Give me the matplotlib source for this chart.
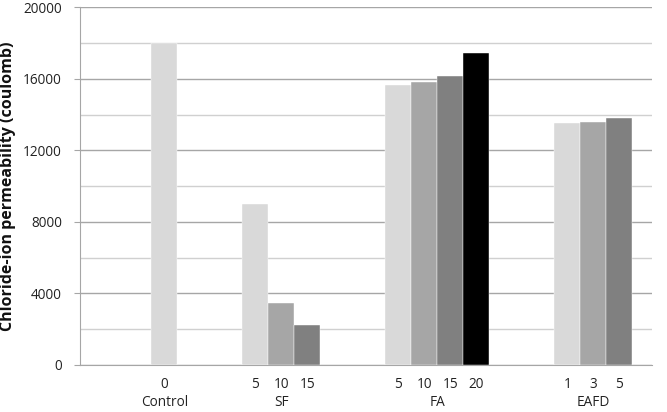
import numpy as np
import matplotlib.pyplot as plt
from matplotlib.transforms import blended_transform_factory

plt.rcParams['font.family'] = ['Open Sans', 'DejaVu Sans']

# groups and their bars (Excel style clustered columns, 4 slots per group)
groups    = ['Control', 'SF', 'FA', 'EAFD']
sublabels = [['0'], ['5', '10', '15'], ['5', '10', '15', '20'], ['1', '3', '5']]
slots     = [[2], [0, 1, 2], [0, 1, 2, 3], [1, 2, 3]]
values    = [[18000],
             [9000, 3450, 2220],
             [15640, 15850, 16160, 17430],
             [13530, 13600, 13800]]
shades    = ['#d9d9d9', '#a6a6a6', '#808080', '#000000']

cat_w = 5.5     # width of one category in bar widths
gap   = 0.75    # half of gap between clusters

fig = plt.figure(figsize=(6.67, 4.12), dpi=100)
ax = fig.add_axes([0.1199, 0.1148, 0.8576, 0.8670])

tick_pos, tick_lab, grp_ctr = [], [], []
for k in range(len(groups)):
    xs = [cat_w*k + gap + s + 0.5 for s in slots[k]]
    ax.bar(xs, values[k], width=1.0, color=shades[:len(xs)],
           edgecolor='white', linewidth=0.3, zorder=3)
    tick_pos += xs
    tick_lab += sublabels[k]
    grp_ctr.append(np.mean(xs))

ax.set_xlim(0, cat_w*len(groups))
ax.set_ylim(0, 20000)

# gridlines: major every 4000 darker, minor every 2000 lighter
ax.set_yticks(np.arange(0, 20001, 4000))
ax.set_yticks(np.arange(2000, 20000, 4000), minor=True)
ax.grid(axis='y', which='major', color='#a6a6a6', linewidth=1.0, zorder=0)
ax.grid(axis='y', which='minor', color='#d0d0d0', linewidth=1.0, zorder=0)
ax.tick_params(axis='y', which='major', length=4, color='#a6a6a6', pad=9,
               labelsize=9.8, labelcolor='#222222')
ax.tick_params(axis='y', which='minor', length=0)

ax.set_xticks(tick_pos, tick_lab)
ax.tick_params(axis='x', length=0, pad=9, labelsize=9.8, labelcolor='#222222')

for sp in ['top', 'right']:
    ax.spines[sp].set_visible(False)
ax.spines['left'].set_color('#a6a6a6')
ax.spines['bottom'].set_color('#a6a6a6')

trans = blended_transform_factory(ax.transData, ax.transAxes)
for c, g in zip(grp_ctr, groups):
    ax.text(c, -0.106, g, transform=trans, ha='center', va='center',
            fontsize=9.8, color='#222222')

ax.set_ylabel('Chloride-ion permeability (coulomb)', fontsize=11.5,
              fontweight='bold', color='#111111')
ax.yaxis.set_label_coords(-0.112, 0.5)

fig.savefig('out.png', dpi=100)
